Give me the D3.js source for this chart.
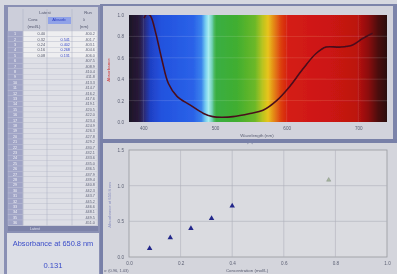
<!DOCTYPE html>
<html>
<head>
<meta charset="utf-8">
<script src="https://cdn.jsdelivr.net/npm/d3@7"></script>
<style>
  html, body { margin: 0; padding: 0; background: #d6d8e0; }
  svg { display: block; font-family: "Liberation Sans", Arial, sans-serif; }
</style>
</head>
<body>
<svg id="chart" width="397" height="274"></svg>
<script>
(function () {
	"use strict";

	// spectrum (absorbance vs wavelength)
	var specWl = [401, 405, 410, 417, 426, 435, 447, 465, 484, 497, 510, 525, 549, 567, 586, 604, 622, 641, 655, 674, 692, 706, 720];
	var specAbs = [0.97, 1.01, 0.99, 0.84, 0.58, 0.36, 0.24, 0.16, 0.08, 0.05, 0.045, 0.05, 0.08, 0.11, 0.2, 0.33, 0.49, 0.64, 0.70, 0.70, 0.72, 0.78, 0.83];
	var wlTicks = [400, 500, 600, 700];
	var absTicks = [0, 0.2, 0.4, 0.6, 0.8, 1.0];

	// visible spectrum colour stops
	var bandWl = [380, 394, 402, 410, 425, 470, 481, 487, 491, 496, 500, 530, 556, 566, 574, 582, 592, 602, 660, 698, 714, 728, 740];
	var bandColor = ['#1c1424', '#281a3a', '#2a2c7c', '#1f40c4', '#2252de', '#2a62e8', '#3a82ec', '#78d0f0', '#a8ecf0', '#70d0b4', '#38ae44', '#40ae30', '#6cb828', '#b8c420', '#e8c41c', '#e48818', '#dc4010', '#d41c12', '#cc1612', '#bc1210', '#8c1010', '#4a1010', '#2a1010'];

	// calibration points
	var conc = [0.08, 0.16, 0.24, 0.32, 0.40];
	var absorb = [0.12, 0.27, 0.40, 0.54, 0.715];
	var unknownConc = [0.774];
	var unknownAbs = [1.08];
	var concTicks = [0, 0.2, 0.4, 0.6, 0.8, 1.0];
	var calAbsTicks = [0, 0.5, 1.0, 1.5];

	// table
	var tableConc = ['0.40', '0.32', '0.24', '0.16', '0.08'];
	var tableAbs = ['', '0.541', '0.402', '0.268', '0.131'];
	var tableWl = ['400.2', '401.7', '403.1', '404.6', '406.0', '407.5', '408.9', '410.4', '411.8', '413.3', '414.7', '416.2',
		'417.6', '419.1', '420.5', '422.0', '423.4', '424.9', '426.3', '427.8', '429.2', '430.7', '432.1', '433.6',
		'435.0', '436.5', '437.9', '439.4', '440.8', '442.3', '443.7', '445.2', '446.6', '448.1', '449.5', '451.0'];

	var svg = d3.select('#chart');
	var defs = svg.append('defs');
	defs.append('filter').attr('id', 'soft').attr('x', 0).attr('y', 0).attr('width', 1).attr('height', 1)
		.append('feGaussianBlur').attr('stdDeviation', 0.45);

	var root = svg.append('g').attr('filter', 'url(#soft)');
	root.append('rect').attr('width', 397).attr('height', 274).attr('fill', '#d6d8e0');

	// ---------- left table panel ----------
	var left = root.append('g');
	left.append('rect').attr('x', 4).attr('y', 5).attr('width', 96).attr('height', 269).attr('fill', '#8a90b4');
	left.append('rect').attr('x', 8).attr('y', 7).attr('width', 90).attr('height', 224).attr('fill', '#cccedA');

	var colX = [8, 23, 47, 72, 97];
	var rowH = 5.4, rowTop = 31;

	// header
	left.append('rect').attr('x', 48).attr('y', 17).attr('width', 23).attr('height', 7).attr('fill', '#90a2e8');
	var head = [
		{ t: 'Latest', x: 45, y: 14 }, { t: 'Run', x: 88, y: 14 },
		{ t: 'Conc', x: 33, y: 21 }, { t: 'Absorb', x: 59, y: 21, c: '#2838c0' }, { t: '\u03bb', x: 84, y: 21 },
		{ t: '(mol/L)', x: 34, y: 28 }, { t: '(nm)', x: 84, y: 28 }
	];
	left.selectAll('.head').data(head).enter().append('text')
		.attr('x', function (d) { return d.x; })
		.attr('y', function (d) { return d.y; })
		.attr('text-anchor', 'middle')
		.attr('font-size', 4.2)
		.attr('fill', function (d) { return d.c || '#50546c'; })
		.text(function (d) { return d.t; });

	var rows = left.selectAll('.row').data(tableWl).enter().append('g')
		.attr('transform', function (d, i) { return 'translate(0,' + (rowTop + i * rowH) + ')'; });

	rows.append('rect').attr('x', colX[0]).attr('width', colX[1] - colX[0]).attr('height', rowH)
		.attr('fill', '#a0a4c6').attr('stroke', '#b8bcd4').attr('stroke-width', 0.4);
	rows.append('rect').attr('x', colX[1]).attr('width', colX[4] - colX[1]).attr('height', rowH)
		.attr('fill', function (d, i) { return i < 5 ? '#eeeef0' : '#dedfe6'; })
		.attr('stroke', '#c4c6d2').attr('stroke-width', 0.4);
	rows.append('text').attr('x', 15).attr('y', 4.2).attr('text-anchor', 'middle')
		.attr('font-size', 3.8).attr('fill', '#f2f2f8')
		.text(function (d, i) { return i + 1; });
	rows.append('text').attr('x', 45).attr('y', 4.2).attr('text-anchor', 'end')
		.attr('font-size', 3.8).attr('fill', '#505468')
		.text(function (d, i) { return tableConc[i] || ''; });
	rows.append('text').attr('x', 70).attr('y', 4.2).attr('text-anchor', 'end')
		.attr('font-size', 3.8).attr('fill', '#3848c8')
		.text(function (d, i) { return tableAbs[i] || ''; });
	rows.append('text').attr('x', 95).attr('y', 4.2).attr('text-anchor', 'end')
		.attr('font-size', 3.8).attr('fill', '#606478')
		.text(function (d) { return d; });

	left.selectAll('.vline').data(colX.slice(1, 4)).enter().append('line')
		.attr('x1', function (d) { return d; }).attr('x2', function (d) { return d; })
		.attr('y1', 9).attr('y2', rowTop + tableWl.length * rowH)
		.attr('stroke', '#a8acc0').attr('stroke-width', 0.5);

	left.append('rect').attr('x', 8).attr('y', 226).attr('width', 90).attr('height', 5).attr('fill', '#7c82a8');
	left.append('text').attr('x', 30).attr('y', 230).attr('font-size', 3.6).attr('fill', '#e0e2ee').text('Latest');

	// readout box
	left.append('rect').attr('x', 7).attr('y', 233).attr('width', 92).attr('height', 41).attr('fill', '#dcdee6');
	left.append('text').attr('x', 53).attr('y', 246).attr('text-anchor', 'middle')
		.attr('font-size', 7.4).attr('fill', '#3a4cc8').text('Absorbance at 650.8 nm');
	left.append('text').attr('x', 53).attr('y', 268).attr('text-anchor', 'middle')
		.attr('font-size', 7.6).attr('fill', '#3a4cc8').text('0.131');

	// ---------- top right: spectrum ----------
	var top = root.append('g');
	top.append('rect').attr('x', 100).attr('y', 4).attr('width', 297).attr('height', 137).attr('fill', '#7c84aa');
	top.append('rect').attr('x', 103).attr('y', 6).attr('width', 290).attr('height', 133).attr('fill', '#d2d3dc');

	var xW = d3.scaleLinear().domain([380, 740]).range([129, 387]);
	var yA = d3.scaleLinear().domain([0, 1]).range([122, 15]);

	var grad = defs.append('linearGradient')
		.attr('id', 'spectrum').attr('gradientUnits', 'userSpaceOnUse')
		.attr('x1', xW(380)).attr('x2', xW(740)).attr('y1', 0).attr('y2', 0);
	grad.selectAll('stop').data(bandWl).enter().append('stop')
		.attr('offset', function (d) { return (d - 380) / 360; })
		.attr('stop-color', function (d, i) { return bandColor[i]; });

	defs.append('clipPath').attr('id', 'specClip')
		.append('rect').attr('x', xW(380)).attr('y', yA(1)).attr('width', xW(740) - xW(380)).attr('height', yA(0) - yA(1));

	top.append('rect').attr('x', xW(380)).attr('y', yA(1))
		.attr('width', xW(740) - xW(380)).attr('height', yA(0) - yA(1))
		.attr('fill', 'url(#spectrum)');

	top.selectAll('.hg').data(absTicks.slice(1, 5)).enter().append('line')
		.attr('x1', xW(380)).attr('x2', xW(740))
		.attr('y1', function (d) { return yA(d); }).attr('y2', function (d) { return yA(d); })
		.attr('stroke', '#ffffff').attr('stroke-opacity', 0.22).attr('stroke-width', 0.6);
	top.selectAll('.vg').data(wlTicks).enter().append('line')
		.attr('y1', yA(1)).attr('y2', yA(0))
		.attr('x1', function (d) { return xW(d); }).attr('x2', function (d) { return xW(d); })
		.attr('stroke', '#ffffff').attr('stroke-opacity', 0.18).attr('stroke-width', 0.6);

	var specLine = d3.line()
		.x(function (d, i) { return xW(specWl[i]); })
		.y(function (d) { return yA(d); })
		.curve(d3.curveCatmullRom);
	top.append('path').datum(specAbs)
		.attr('clip-path', 'url(#specClip)')
		.attr('d', specLine)
		.attr('fill', 'none').attr('stroke', '#4a0e1c').attr('stroke-width', 1.6);

	var axisStyle = function (g) {
		g.select('.domain').remove();
		g.selectAll('line').remove();
		g.selectAll('text').attr('font-size', 4.6).attr('fill', '#5c6074');
	};
	top.append('g').attr('transform', 'translate(' + (xW(380) - 2) + ',0)')
		.call(d3.axisLeft(yA).tickValues(absTicks).tickFormat(d3.format('.1f')).tickSize(0).tickPadding(3))
		.call(axisStyle);
	top.append('g').attr('transform', 'translate(0,' + (yA(0) + 2) + ')')
		.call(d3.axisBottom(xW).tickValues(wlTicks).tickFormat(d3.format('d')).tickSize(0).tickPadding(3))
		.call(axisStyle);
	top.append('text').attr('x', 257).attr('y', 137).attr('text-anchor', 'middle')
		.attr('font-size', 4.4).attr('fill', '#585c70').text('Wavelength (nm)');
	top.append('text').attr('transform', 'translate(110,70) rotate(-90)').attr('text-anchor', 'middle')
		.attr('font-size', 4.4).attr('fill', '#d03a3a').text('Absorbance');

	// ---------- bottom right: calibration ----------
	var bot = root.append('g');
	bot.append('rect').attr('x', 100).attr('y', 139).attr('width', 297).attr('height', 135).attr('fill', '#7880a8');
	bot.append('rect').attr('x', 103).attr('y', 143).attr('width', 294).attr('height', 131).attr('fill', '#d4d5dc');
	bot.append('path').attr('d', 'M247,144 l3,-2 l3,2').attr('fill', 'none').attr('stroke', '#8088a8').attr('stroke-width', 0.6);

	var xC = d3.scaleLinear().domain([0, 1]).range([129, 387]);
	var yC = d3.scaleLinear().domain([0, 1.5]).range([257, 150]);

	bot.append('rect').attr('x', xC(0)).attr('y', yC(1.5))
		.attr('width', xC(1) - xC(0)).attr('height', yC(0) - yC(1.5))
		.attr('fill', '#dadbe0').attr('stroke', '#96989f').attr('stroke-width', 0.8);
	bot.selectAll('.vg').data(concTicks.slice(1, 5)).enter().append('line')
		.attr('y1', yC(1.5)).attr('y2', yC(0))
		.attr('x1', function (d) { return xC(d); }).attr('x2', function (d) { return xC(d); })
		.attr('stroke', '#aeb0ba').attr('stroke-width', 0.6);
	bot.selectAll('.hg').data(calAbsTicks.slice(1, 3)).enter().append('line')
		.attr('x1', xC(0)).attr('x2', xC(1))
		.attr('y1', function (d) { return yC(d); }).attr('y2', function (d) { return yC(d); })
		.attr('stroke', '#aeb0ba').attr('stroke-width', 0.6);

	var tri = d3.symbol().type(d3.symbolTriangle).size(13);
	bot.selectAll('.pt').data(conc).enter().append('path')
		.attr('d', tri)
		.attr('transform', function (d, i) { return 'translate(' + xC(d) + ',' + yC(absorb[i]) + ')'; })
		.attr('fill', '#22288a');
	bot.selectAll('.unk').data(unknownConc).enter().append('path')
		.attr('d', d3.symbol().type(d3.symbolTriangle).size(8))
		.attr('transform', function (d, i) { return 'translate(' + xC(d) + ',' + yC(unknownAbs[i]) + ')'; })
		.attr('fill', '#a8b4a0').attr('stroke', '#7c8c78').attr('stroke-width', 0.4);

	bot.append('g').attr('transform', 'translate(' + (xC(0) - 2) + ',0)')
		.call(d3.axisLeft(yC).tickValues(calAbsTicks).tickFormat(d3.format('.1f')).tickSize(0).tickPadding(3))
		.call(axisStyle);
	bot.append('g').attr('transform', 'translate(0,' + (yC(0) + 2) + ')')
		.call(d3.axisBottom(xC).tickValues(concTicks).tickFormat(d3.format('.1f')).tickSize(0).tickPadding(3))
		.call(axisStyle);
	bot.append('text').attr('x', 247).attr('y', 272).attr('text-anchor', 'middle')
		.attr('font-size', 4.4).attr('fill', '#585c70').text('Concentration (mol/L)');
	bot.append('text').attr('transform', 'translate(111,205) rotate(-90)').attr('text-anchor', 'middle')
		.attr('font-size', 4.2).attr('fill', '#8a90c0').text('Absorbance at 650.8 nm');
	bot.append('text').attr('x', 104).attr('y', 272).attr('font-size', 4).attr('fill', '#5a5e74').text('x: (0.96, 1.03)');
}());
</script>
</body>
</html>
